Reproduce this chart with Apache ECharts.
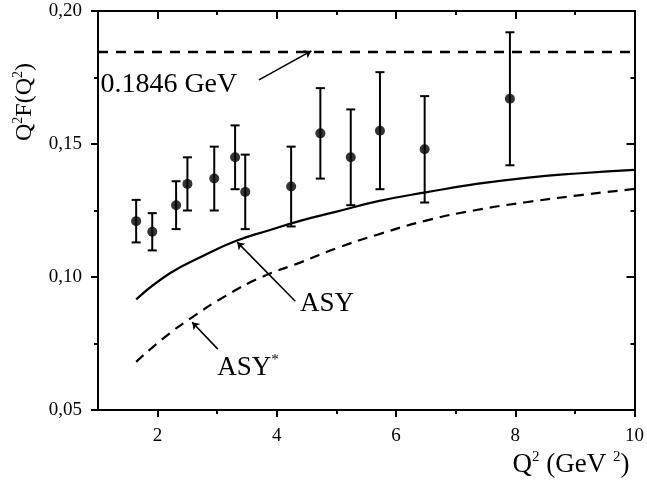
<!DOCTYPE html>
<html>
<head>
<meta charset="utf-8">
<script src="https://cdn.jsdelivr.net/npm/echarts@6/dist/echarts.min.js"></script>
<style>
  html, body { margin: 0; padding: 0; background: #fff; }
  #chart { width: 647px; height: 485px; }
</style>
</head>
<body>
<div id="chart"></div>
<script>
    // measured points Q^2 F(Q^2) with errors
    var qx   = [1.64, 1.91, 2.31, 2.50, 2.95, 3.30, 3.47, 4.24, 4.73, 5.24, 5.73, 6.48, 7.91];
    var fval = [0.121, 0.117, 0.127, 0.135, 0.137, 0.145, 0.132, 0.134, 0.154, 0.145, 0.155, 0.148, 0.167];
    var ferr = [0.008, 0.007, 0.009, 0.010, 0.012, 0.012, 0.014, 0.015, 0.017, 0.018, 0.022, 0.020, 0.025];

    // ASY curve (solid)
    var asyX = [1.64, 2.20, 2.75, 3.31, 3.86, 4.42, 4.97, 5.70, 6.52, 7.30, 8.18, 9.10, 10];
    var asyY = [0.0916, 0.1013, 0.1078, 0.1135, 0.1175, 0.1213, 0.1244, 0.1285, 0.1319, 0.1348, 0.1373, 0.1390, 0.1403];

    // ASY* curve (dashed)
    var asyStarX = [1.64, 2.10, 2.59, 3.15, 3.75, 4.40, 5.00, 5.70, 6.52, 7.30, 8.18, 9.10, 10];
    var asyStarY = [0.0681, 0.0770, 0.0850, 0.0930, 0.1000, 0.1055, 0.1108, 0.1160, 0.1213, 0.1250, 0.1281, 0.1308, 0.1331];

    // asymptotic value
    var limitX = [1, 10];
    var limitVal = 0.1846;

    var xMajor = [2, 4, 6, 8, 10];
    var xMinor = [3, 5, 7, 9];

    // annotation arrows, in data units [from, to]
    var arrows = [
        [[3.70, 0.1741], [4.58, 0.1850]],
        [[4.31, 0.0909], [3.335, 0.1131]],
        [[3.01, 0.0729], [2.58, 0.0830]]
    ];
    // annotation texts, anchor (left, middle) in data units
    var notes = [
        {text: '0.1846 GeV', at: [1.04, 0.1725]},
        {text: 'ASY', at: [4.39, 0.0898]},
        {text: 'ASY{sup|*}', at: [3.00, 0.0660]}
    ];

    var serif = '"Liberation Serif", "DejaVu Serif", serif';

    var pts = qx.map(function (x, i) { return [x, fval[i]]; });
    var bars = qx.map(function (x, i) { return [x, fval[i] - ferr[i], fval[i] + ferr[i]]; });
    var asy = asyX.map(function (x, i) { return [x, asyY[i]]; });
    var asyStar = asyStarX.map(function (x, i) { return [x, asyStarY[i]]; });
    var limit = limitX.map(function (x) { return [x, limitVal]; });

    function renderErr(params, api) {
        var top = api.coord([api.value(0), api.value(2)]);
        var bot = api.coord([api.value(0), api.value(1)]);
        var w = 4.5;
        var st = {stroke: '#000', lineWidth: 2};
        return {
            type: 'group',
            children: [
                {type: 'line', shape: {x1: top[0], y1: top[1], x2: bot[0], y2: bot[1]}, style: st},
                {type: 'line', shape: {x1: top[0] - w, y1: top[1], x2: top[0] + w, y2: top[1]}, style: st},
                {type: 'line', shape: {x1: bot[0] - w, y1: bot[1], x2: bot[0] + w, y2: bot[1]}, style: st}
            ]
        };
    }

    var axLine = {show: true, lineStyle: {color: '#000', width: 2}};
    var baseX = {type: 'value', min: 1, max: 10, splitLine: {show: false}};
    var baseY = {type: 'value', min: 0.05, max: 0.20, interval: 0.05, splitLine: {show: false}};

    var chart = echarts.init(document.getElementById('chart'));
    var option = {
        backgroundColor: '#fff',
        animation: false,
        grid: {left: 98, right: 8, top: 11, bottom: 75},
        xAxis: [
            Object.assign({}, baseX, {
                position: 'bottom',
                axisLine: axLine,
                axisTick: {customValues: xMajor, length: 7, lineStyle: {color: '#000', width: 2}},
                axisLabel: {customValues: xMajor, margin: 17, color: '#000', fontFamily: serif, fontSize: 19,
                    alignMaxLabel: 'center', hideOverlap: false}
            }),
            Object.assign({}, baseX, {
                position: 'bottom',
                axisLine: {show: false},
                axisTick: {customValues: xMinor, length: 4, lineStyle: {color: '#000', width: 2}},
                axisLabel: {show: false}
            }),
            Object.assign({}, baseX, {
                position: 'top',
                axisLine: axLine,
                axisTick: {customValues: [2, 4, 6, 8], inside: true, length: 8, lineStyle: {color: '#000', width: 2}},
                axisLabel: {show: false}
            }),
            Object.assign({}, baseX, {
                position: 'top',
                axisLine: {show: false},
                axisTick: {customValues: xMinor, inside: true, length: 4, lineStyle: {color: '#000', width: 2}},
                axisLabel: {show: false}
            })
        ],
        yAxis: [
            Object.assign({}, baseY, {
                position: 'left',
                axisLine: axLine,
                axisTick: {length: 7, lineStyle: {color: '#000', width: 2}},
                minorTick: {show: true, splitNumber: 2, length: 4, lineStyle: {color: '#000', width: 2}},
                axisLabel: {
                    margin: 16, color: '#000', fontFamily: serif, fontSize: 19,
                    formatter: function (v) { return v.toFixed(2).replace('.', ','); }
                }
            }),
            Object.assign({}, baseY, {
                position: 'right',
                axisLine: axLine,
                axisTick: {inside: true, length: 8, lineStyle: {color: '#000', width: 2}},
                minorTick: {show: true, splitNumber: 2, length: 4, lineStyle: {color: '#000', width: 2}},
                axisLabel: {show: false}
            })
        ],
        series: [
            {
                type: 'line',
                data: limit,
                showSymbol: false,
                lineStyle: {color: '#000', width: 2.5, type: [10, 8]},
                silent: true,
                markLine: {
                    silent: true,
                    symbol: ['none', 'arrow'],
                    symbolSize: 7,
                    label: {show: false},
                    lineStyle: {color: '#000', width: 1.6, type: 'solid'},
                    data: arrows.map(function (a) { return [{coord: a[0]}, {coord: a[1]}]; })
                }
            },
            {
                type: 'line',
                data: asy,
                smooth: true,
                showSymbol: false,
                lineStyle: {color: '#000', width: 2.2},
                silent: true
            },
            {
                type: 'line',
                data: asyStar,
                smooth: true,
                showSymbol: false,
                lineStyle: {color: '#000', width: 2.2, type: [10, 7]},
                silent: true
            },
            {
                type: 'custom',
                renderItem: renderErr,
                data: bars,
                encode: {x: 0, y: [1, 2]},
                silent: true
            },
            {
                type: 'scatter',
                data: pts,
                symbol: 'circle',
                symbolSize: 10,
                itemStyle: {color: '#000'},
                silent: true
            }
        ]
    };
    chart.setOption(option);

    // texts placed through the axes
    var graphics = notes.map(function (n) {
        var p = chart.convertToPixel({xAxisIndex: 0, yAxisIndex: 0}, n.at);
        return {
            type: 'text', x: p[0], y: p[1], silent: true,
            style: {
                text: n.text, fill: '#000', font: '27px ' + serif,
                verticalAlign: 'middle', align: 'left',
                rich: {sup: {fontSize: 15, fontFamily: serif, verticalAlign: 'top', lineHeight: 30}}
            }
        };
    });
    graphics[0].style.font = '28px ' + serif;
    graphics.push({
        type: 'text', x: 25, y: 102, rotation: Math.PI / 2, silent: true,
        style: {
            text: 'Q{s|2}F(Q{s|2})', fill: '#000', font: '24px ' + serif,
            align: 'center', verticalAlign: 'middle',
            rich: {s: {fontSize: 14, fontFamily: serif, verticalAlign: 'top', lineHeight: 28}}
        }
    });
    graphics.push({
        type: 'text', x: 571, y: 465, silent: true,
        style: {
            text: 'Q{s|2} (GeV {s|2})', fill: '#000', font: '27px ' + serif,
            align: 'center', verticalAlign: 'middle',
            rich: {s: {fontSize: 15, fontFamily: serif, verticalAlign: 'top', lineHeight: 30}}
        }
    });
    chart.setOption({graphic: graphics});
</script>
</body>
</html>
